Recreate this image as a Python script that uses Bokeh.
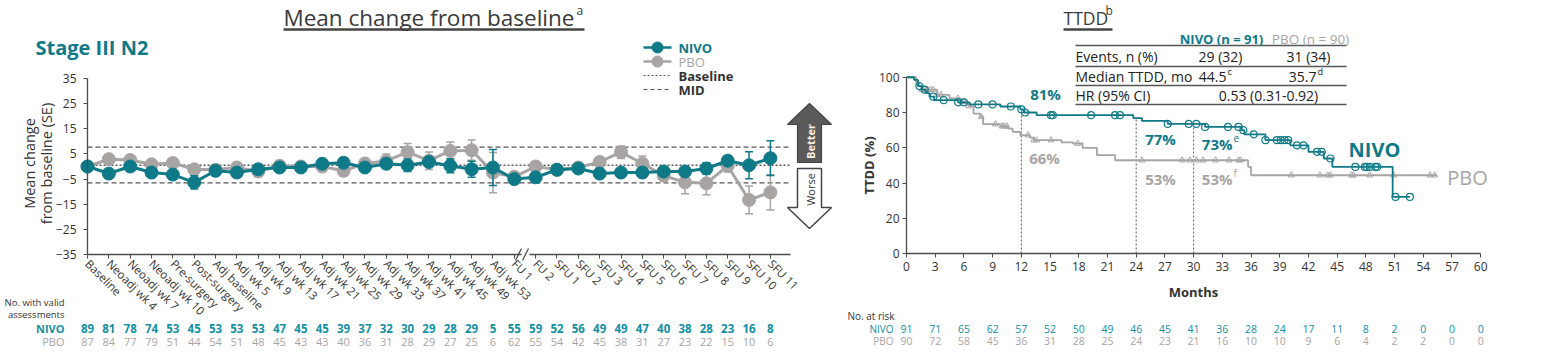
import math
from bokeh.plotting import figure
from bokeh.models import ColumnDataSource, Label, LabelSet, FixedTicker, Range1d
from bokeh.layouts import row
from bokeh.embed import file_html
from bokeh.resources import INLINE
from bokeh.core.properties import value

# ---------------- data: mean change from baseline ----------------
categories = ["Baseline", "Neoadj wk 4", "Neoadj wk 7", "Neoadj wk 10", "Pre-surgery",
              "Post-surgery", "Adj baseline", "Adj wk 5", "Adj wk 9", "Adj wk 13",
              "Adj wk 17", "Adj wk 21", "Adj wk 25", "Adj wk 29", "Adj wk 33",
              "Adj wk 37", "Adj wk 41", "Adj wk 45", "Adj wk 49", "Adj wk 53",
              "FU 1", "FU 2", "SFU 1", "SFU 2", "SFU 3", "SFU 4", "SFU 5", "SFU 6",
              "SFU 7", "SFU 8", "SFU 9", "SFU 10", "SFU 11"]
nivo_mean = [0, -2.8, 0, -2.4, -3.2, -6.3, -1.7, -2.4, -1.1, -0.4, -0.4, 1.1, 1.5, -0.4,
             1.1, 0.5, 1.8, 0.3, -1.1, -0.4, -5.0, -4.3, -1.3, -0.8, -2.8, -2.4, -2.4,
             -2.0, -2.0, -0.8, 2.3, 0.5, 3.3]
nivo_se = [0, 1.4, 1.2, 1.3, 1.5, 2.6, 1.3, 1.5, 1.3, 1.3, 1.3, 1.5, 1.8, 1.5, 1.8, 2.5,
           1.5, 2.8, 3.2, 7.2, 1.2, 1.2, 1.3, 1.3, 1.5, 1.3, 1.5, 1.5, 1.5, 2.3, 1.8,
           5.4, 6.9]
pbo_mean = [0, 2.9, 2.6, 0.9, 1.4, -1.1, -1.3, -0.4, -2.0, 0.3, 0, 0, -1.7, 1.2, 2.2,
            5.7, 2.3, 6.2, 6.5, -2.4, -4.1, 0, -1.3, -0.4, 1.8, 5.7, 1.2, -3.6, -6.3,
            -6.7, 0.3, -13.3, -10.3]
pbo_se = [0, 1.2, 1.2, 1.2, 1.3, 1.5, 1.3, 2.0, 2.0, 1.8, 2.0, 2.0, 2.2, 2.0, 2.8, 3.5,
          3.5, 3.5, 4.0, 8.0, 2.0, 2.0, 2.0, 2.0, 2.0, 2.5, 3.0, 2.0, 4.5, 4.5, 2.5,
          5.5, 7.0]
nivo_n = [89, 81, 78, 74, 53, 45, 53, 53, 53, 47, 45, 45, 39, 37, 32, 30, 29, 28, 29, 5,
          55, 59, 52, 56, 49, 49, 47, 40, 38, 28, 23, 16, 8]
pbo_n = [87, 84, 77, 79, 51, 44, 54, 51, 48, 45, 43, 43, 40, 36, 31, 28, 29, 27, 25, 6,
         62, 55, 54, 42, 45, 38, 31, 27, 23, 22, 15, 10, 6]
left_yticks = [-35, -25, -15, -5, 5, 15, 25, 35]
baseline_ref = 0.5
mid_upper = 7.7
mid_lower = -6.5

# ---------------- data: TTDD Kaplan-Meier ----------------
km_months = list(range(0, 61, 3))
nivo_risk = [91, 71, 65, 62, 57, 52, 50, 49, 46, 45, 41, 36, 28, 24, 17, 11, 8, 2, 0, 0, 0]
pbo_risk = [90, 72, 58, 45, 36, 31, 28, 25, 24, 23, 21, 16, 10, 10, 9, 6, 4, 2, 2, 0, 0]
nivo_t = [0, 0.8, 1.2, 1.6, 2.0, 2.4, 2.9, 5.4, 6.6, 9.8, 11.9, 12.3, 13.6, 23.7, 24.6,
          27.3, 31.2, 35.0, 35.3, 37.5, 40.1, 42.0, 43.6, 44.5, 50.8]
nivo_s = [100, 98.5, 95, 93, 91, 89, 87, 85.8, 84.6, 83.4, 81.8, 80, 78.5, 76.8, 75.2,
          73.5, 71.8, 70, 67.6, 64.3, 61.4, 57.7, 53.9, 49.1, 32.1]
nivo_end = 52.6
nivo_cens = [1.35, 1.9, 2.8, 3.9, 5.4, 6.0, 7.5, 9.0, 10.9, 12.0, 12.4, 15.1, 15.3, 19.3,
             21.8, 22.3, 27.3, 29.5, 30.3, 31.2, 33.6, 34.7, 35.2, 36.3, 37.5, 38.7,
             39.1, 39.5, 39.9, 40.8, 41.5, 42.9, 43.4, 44.3, 46.9, 47.9, 48.1, 48.4,
             49.0, 49.2, 51.1, 52.6]
pbo_t = [0, 1.0, 1.3, 1.6, 3.2, 4.5, 5.6, 6.2, 6.5, 7.0, 7.7, 8.0, 9.8, 10.6, 11.1, 11.9,
         12.9, 13.3, 16.2, 17.4, 18.4, 19.9, 21.8, 35.7, 36.0]
pbo_s = [100, 97, 95, 93, 90, 88, 86, 85, 83.6, 79.4, 77.5, 73.4, 72.2, 70.9, 69, 67.1,
         65.8, 64.3, 63, 62.4, 59.9, 55.8, 52.9, 49.1, 44.4]
pbo_end = 55.4
pbo_cens = [1.6, 1.9, 2.2, 2.5, 2.8, 3.2, 3.6, 5.4, 5.8, 6.0, 6.5, 7.8, 9.3, 10.0, 10.2,
            10.5, 12.7, 13.3, 13.6, 15.1, 17.9, 24.6, 28.8, 29.6, 30.3, 31.0, 32.3, 33.7,
            34.7, 34.9, 40.2, 43.2, 44.0, 44.3, 46.5, 46.7, 48.4, 50.9, 54.7, 55.2]
landmarks = [12, 24, 30]
km_xticks = list(range(0, 61, 3))
km_yticks = [0, 20, 40, 60, 80, 100]

TEAL = "#0e7a88"
TEAL_N = "#1390a3"
GRAY = "#a8a4a4"
DARK = "#333333"
AX = "#4d4d4d"
FONT = "Open Sans"


def lab(p, x, y, text, size, color, align="left", baseline="middle", bold=False, angle=0.0):
    p.add_layout(Label(x=x, y=y, text=text, text_font=FONT, text_font_size=f"{size}px",
                       text_color=color, text_align=align, text_baseline=baseline,
                       text_font_style="bold" if bold else "normal", angle=angle))


def style(p):
    p.outline_line_color = None
    p.grid.visible = False
    p.background_fill_color = "white"
    p.border_fill_color = "white"


def style_axis(ax, size="12px"):
    ax.axis_line_color = AX
    ax.axis_line_width = 1.3
    ax.major_tick_out = 4
    ax.major_tick_in = 0
    ax.major_tick_line_color = AX
    ax.minor_tick_line_color = None
    ax.major_label_text_font = FONT
    ax.major_label_text_font_size = size
    ax.major_label_text_color = DARK


# ================= LEFT: mean change =================
LW, LH = 845, 357
AXIS_X, AXIS_Y = 87, 254      # pixel position of the axes corner
CAT_PX = 21.34
UNIT_PX = 2.514


def lx(px):
    return (px - AXIS_X) / CAT_PX


def ly(py):
    return -35 + (AXIS_Y - py) / UNIT_PX


pl = figure(width=LW, height=LH, x_range=Range1d(lx(0), lx(LW)), y_range=Range1d(ly(LH), ly(0)),
            output_backend="svg", toolbar_location=None, min_border=0,
            min_border_left=0, min_border_right=0, min_border_top=0, min_border_bottom=0)
style(pl)

idx = list(range(len(categories)))
axis_end = lx(790)
src = ColumnDataSource(dict(
    x=idx, nm=nivo_mean, pm=pbo_mean,
    nlo=[m - s for m, s in zip(nivo_mean, nivo_se)], nhi=[m + s for m, s in zip(nivo_mean, nivo_se)],
    plo=[m - s for m, s in zip(pbo_mean, pbo_se)], phi=[m + s for m, s in zip(pbo_mean, pbo_se)],
    nn=[str(v) for v in nivo_n], pn=[str(v) for v in pbo_n]))

# reference lines
pl.segment(x0=0, y0=baseline_ref, x1=axis_end, y1=baseline_ref, line_color="#555555",
           line_width=1.3, line_dash="2 2")
pl.segment(x0=[0, 0], y0=[mid_upper, mid_lower], x1=[axis_end, axis_end], y1=[mid_upper, mid_lower],
           line_color="#555555", line_width=1.3, line_dash="5 3")

for lo, hi, m, col in (("plo", "phi", "pm", GRAY), ("nlo", "nhi", "nm", TEAL)):
    pl.segment(x0="x", y0=lo, x1="x", y1=hi, source=src, line_color=col, line_width=1.5)
    pl.scatter("x", lo, source=src, marker="dash", size=8, line_color=col, line_width=1.5)
    pl.scatter("x", hi, source=src, marker="dash", size=8, line_color=col, line_width=1.5)
    pl.line("x", m, source=src, line_color=col, line_width=3)
    pl.scatter("x", m, source=src, size=13, fill_color=col, line_color=col)

# axes (fixed inside the full-size frame)
pl.xaxis.fixed_location = -35
pl.xaxis.ticker = FixedTicker(ticks=idx)
pl.xaxis.major_label_overrides = {i: c for i, c in enumerate(categories)}
pl.xaxis.major_label_orientation = -math.pi / 4
style_axis(pl.xaxis, "11.5px")
pl.xaxis.axis_line_color = None
pl.xaxis.major_label_standoff = 3

pl.yaxis.fixed_location = 0
pl.yaxis.ticker = FixedTicker(ticks=left_yticks)
pl.yaxis.bounds = (-35, 35)
style_axis(pl.yaxis)
pl.yaxis.major_label_standoff = 7

# x-axis line with break
brk0, brk1 = lx(521), lx(529)
pl.segment(x0=[0, brk1, lx(515), lx(522)], y0=[-35, -35, ly(260), ly(260)],
           x1=[brk0, axis_end, lx(521), lx(528)], y1=[-35, -35, ly(248), ly(248)],
           line_color=AX, line_width=1.3)

# titles
lab(pl, lx(283), ly(17), "Mean change from baseline", 22.5, "#3a3a3a")
lab(pl, lx(576), ly(10), "a", 12, "#3a3a3a")
pl.segment(x0=lx(283), y0=ly(29), x1=lx(584), y1=ly(29), line_color="#444444", line_width=2.5)
lab(pl, lx(35), ly(47), "Stage III N2", 20, TEAL, bold=True)
lab(pl, lx(29), ly(163), "Mean change", 14.5, DARK, align="center", angle=math.pi / 2)
lab(pl, lx(46), ly(163), "from baseline (SE)", 14.5, DARK, align="center", angle=math.pi / 2)

# legend
leg_y = [47, 61, 75, 89]
pl.line([lx(643), lx(671)], [ly(leg_y[0])] * 2, line_color=TEAL, line_width=2.5)
pl.scatter([lx(657)], [ly(leg_y[0])], size=11, fill_color=TEAL, line_color=TEAL)
pl.line([lx(643), lx(671)], [ly(leg_y[1])] * 2, line_color=GRAY, line_width=2.5)
pl.scatter([lx(657)], [ly(leg_y[1])], size=11, fill_color=GRAY, line_color=GRAY)
pl.line([lx(643), lx(671)], [ly(leg_y[2])] * 2, line_color="#555555", line_width=1.2, line_dash="2 2")
pl.line([lx(643), lx(671)], [ly(leg_y[3])] * 2, line_color="#555555", line_width=1.2, line_dash="4 3")
lab(pl, lx(678), ly(leg_y[0]), "NIVO", 13, TEAL, bold=True)
lab(pl, lx(678), ly(leg_y[1]), "PBO", 13, GRAY)
lab(pl, lx(678), ly(leg_y[2]), "Baseline", 13, DARK, bold=True)
lab(pl, lx(678), ly(leg_y[3]), "MID", 13, DARK, bold=True)

# better / worse arrows
bx = [809, 787, 797, 797, 821, 821, 831]
by = [103, 124, 124, 162, 162, 124, 124]
pl.patch([lx(v) for v in bx], [ly(v) for v in by], fill_color="#5a5a5a", line_color="#444444",
         line_width=1.2)
wx = [797, 821, 821, 831, 809, 787, 797]
wy = [168, 168, 207, 207, 228, 207, 207]
pl.patch([lx(v) for v in wx], [ly(v) for v in wy], fill_color="white", line_color="#444444",
         line_width=1.5)
lab(pl, lx(810), ly(141), "Better", 11, "#f4efe4", align="center", angle=math.pi / 2, bold=True)
lab(pl, lx(810), ly(189), "Worse", 11, DARK, align="center", angle=math.pi / 2)

# numbers with valid assessments
lab(pl, lx(64), ly(302), "No. with valid", 9.5, DARK, align="right")
lab(pl, lx(64), ly(314), "assessments", 9.5, DARK, align="right")
lab(pl, lx(64), ly(328), "NIVO", 11, TEAL_N, align="right", bold=True)
lab(pl, lx(64), ly(341), "PBO", 11, GRAY, align="right")
pl.add_layout(LabelSet(x="x", y=ly(328), text="nn", source=src, text_font=value(FONT),
                       text_font_size="11.5px", text_color=TEAL_N, text_align="center",
                       text_baseline="middle", text_font_style="bold"))
pl.add_layout(LabelSet(x="x", y=ly(341), text="pn", source=src, text_font=value(FONT),
                       text_font_size="11px", text_color=GRAY, text_align="center",
                       text_baseline="middle"))

# ================= RIGHT: TTDD =================
RW, RH = 705, 357
RX0 = LW + 61      # absolute pixel of month 0
RY0 = 253          # pixel of 0 %
MON_PX = 9.57
PCT_PX = 1.7625


def rx(px):
    return (px - RX0) / MON_PX


def ry(py):
    return (RY0 - py) / PCT_PX


pr = figure(width=RW, height=RH, x_range=Range1d(rx(LW), rx(LW + RW)), y_range=Range1d(ry(RH), ry(0)),
            output_backend="svg", toolbar_location=None, min_border=0,
            min_border_left=0, min_border_right=0, min_border_top=0, min_border_bottom=0)
style(pr)


def surv_at(t, ts, ss):
    v = ss[0]
    for ti, si in zip(ts, ss):
        if ti <= t:
            v = si
    return v


# landmark dotted lines
pr.segment(x0=landmarks, y0=[0] * 3, x1=landmarks, y1=[surv_at(t, nivo_t, nivo_s) for t in landmarks],
           line_color="#555555", line_width=1, line_dash="2 2")

pr.step(x=pbo_t + [pbo_end], y=pbo_s + [pbo_s[-1]], mode="after", line_color=GRAY, line_width=1.8)
pr.scatter(pbo_cens, [surv_at(t, pbo_t, pbo_s) for t in pbo_cens], marker="triangle", size=6,
           fill_alpha=0, line_color=GRAY, line_width=1)
pr.step(x=nivo_t + [nivo_end], y=nivo_s + [nivo_s[-1]], mode="after", line_color=TEAL, line_width=1.8)
pr.scatter(nivo_cens, [surv_at(t, nivo_t, nivo_s) for t in nivo_cens], marker="circle", size=7,
           fill_alpha=0, line_color=TEAL, line_width=1.2)

pr.xaxis.fixed_location = 0
pr.xaxis.ticker = FixedTicker(ticks=km_xticks)
pr.xaxis.bounds = (0, 60)
pr.yaxis.fixed_location = 0
pr.yaxis.ticker = FixedTicker(ticks=km_yticks)
pr.yaxis.bounds = (0, 100)
style_axis(pr.xaxis)
style_axis(pr.yaxis)
pr.yaxis.major_label_standoff = 3
pr.xaxis.major_label_standoff = 4

lab(pr, rx(1193), ry(291), "Months", 13, DARK, align="center", bold=True)
lab(pr, rx(868), ry(165), "TTDD (%)", 13, DARK, align="center", bold=True, angle=math.pi / 2)

# title
lab(pr, rx(1063), ry(17), "TTDD", 17.5, "#3a3a3a")
lab(pr, rx(1105), ry(10), "b", 12, "#3a3a3a")
pr.segment(x0=rx(1063), y0=ry(29), x1=rx(1112), y1=ry(29), line_color="#444444", line_width=2.5)

# table
lab(pr, rx(1221), ry(38), "NIVO (n = 91)", 13, TEAL, align="center", bold=True)
lab(pr, rx(1310), ry(38), "PBO (n = 90)", 13.5, GRAY, align="center")
rules = [45, 66, 85, 104]
pr.segment(x0=[rx(1075)] * 4, y0=[ry(v) for v in rules], x1=[rx(1346)] * 4, y1=[ry(v) for v in rules],
           line_color="#555555", line_width=1.4)
lab(pr, rx(1075), ry(56), "Events, n (%)", 14, "#222222")
lab(pr, rx(1220), ry(56), "29 (32)", 14, "#222222", align="center")
lab(pr, rx(1308), ry(56), "31 (34)", 14, "#222222", align="center")
lab(pr, rx(1075), ry(76), "Median TTDD, mo", 14, "#222222")
lab(pr, rx(1226), ry(76), "44.5", 14, "#222222", align="right")
lab(pr, rx(1227), ry(71), "c", 9, "#222222")
lab(pr, rx(1316), ry(76), "35.7", 14, "#222222", align="right")
lab(pr, rx(1317), ry(71), "d", 9, "#222222")
lab(pr, rx(1075), ry(95), "HR (95% CI)", 14, "#222222")
lab(pr, rx(1268), ry(95), "0.53 (0.31-0.92)", 14, "#222222", align="center")

# KM annotations
lab(pr, rx(1045), ry(93), "81%", 15, TEAL, align="center", bold=True)
lab(pr, rx(1044), ry(157), "66%", 15, GRAY, align="center", bold=True)
lab(pr, rx(1160), ry(138), "77%", 15, TEAL, align="center", bold=True)
lab(pr, rx(1160), ry(178), "53%", 15, GRAY, align="center", bold=True)
lab(pr, rx(1232), ry(143), "73%", 15, TEAL, align="right", bold=True)
lab(pr, rx(1233), ry(137), "e", 10, TEAL)
lab(pr, rx(1232), ry(178), "53%", 15, GRAY, align="right", bold=True)
lab(pr, rx(1233), ry(172), "f", 10, GRAY)
lab(pr, rx(1374), ry(149), "NIVO", 20, TEAL, align="center", bold=True)
lab(pr, rx(1467), ry(177), "PBO", 20, GRAY, align="center")

# at risk
risk_src = ColumnDataSource(dict(x=km_months, n=[str(v) for v in nivo_risk], p=[str(v) for v in pbo_risk]))
lab(pr, rx(847), ry(315), "No. at risk", 10, DARK)
lab(pr, rx(893), ry(328), "NIVO", 10, TEAL_N, align="right")
lab(pr, rx(893), ry(340), "PBO", 10, GRAY, align="right")
pr.add_layout(LabelSet(x="x", y=ry(328), text="n", source=risk_src, text_font=value(FONT),
                       text_font_size="10.5px", text_color=TEAL_N, text_align="center",
                       text_baseline="middle"))
pr.add_layout(LabelSet(x="x", y=ry(340), text="p", source=risk_src, text_font=value(FONT),
                       text_font_size="10.5px", text_color=GRAY, text_align="center",
                       text_baseline="middle"))

layout = row(pl, pr)
open("out.html", "w").write(file_html(layout, INLINE))
